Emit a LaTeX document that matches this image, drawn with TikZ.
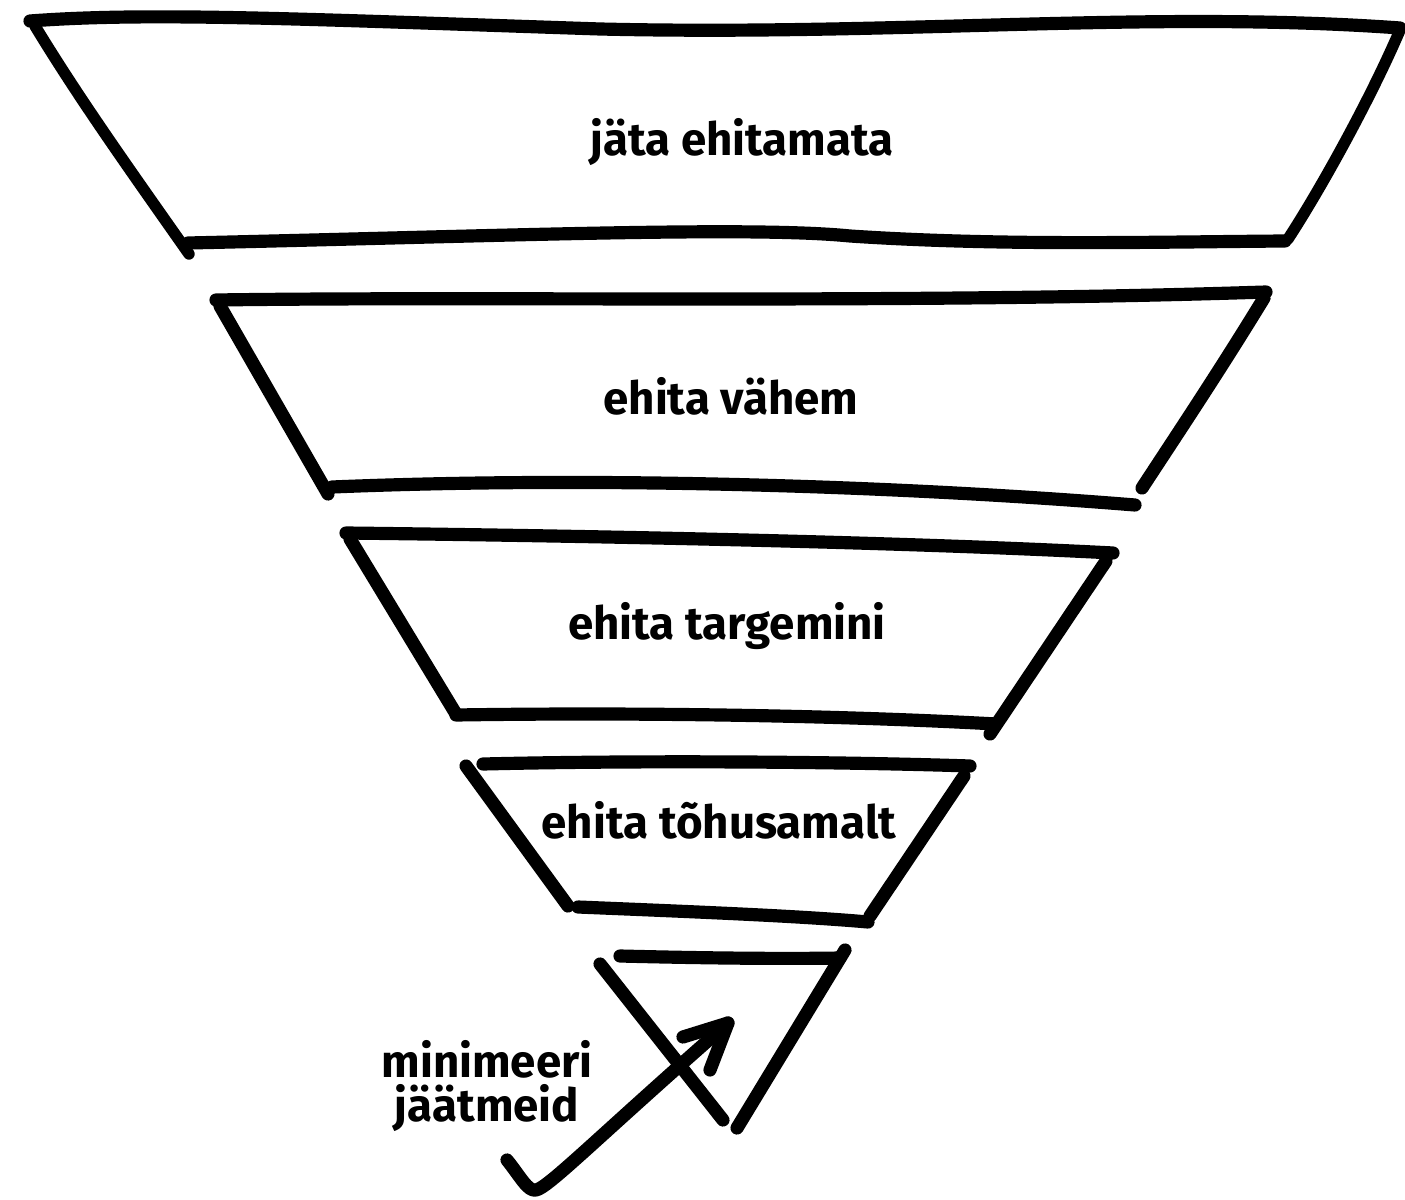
\documentclass[tikz,border=0pt]{standalone}
\usepackage{fontspec}
\setmainfont{Fira Sans}
\begin{document}
\begin{tikzpicture}[scale=0.2]
    \tikzstyle{every node}+=[inner sep=0pt, font=\fontsize{26}{25}\selectfont\bfseries]
    \tikzstyle{pen}=[black, line width=7.5pt, line cap=round, line join=round]
    \useasboundingbox (0,0) rectangle (140.5,-120);
    \draw [pen] (3.0,-2.1) .. controls (15,-1.2) and (30,-1.9) .. (60,-2.9) .. controls (90,-3.6) and (115,-1.0) .. (140.0,-2.8);
    \draw [pen, line width=6.5pt] (3.5,-2.6) .. controls (8,-10) and (13,-17) .. (18.9,-25.4);
    \draw [pen] (18.8,-24.3) .. controls (50,-23.6) and (75,-22.6) .. (85,-23.6) .. controls (100,-24.6) and (115,-24.2) .. (128.5,-24.1);
    \draw [pen, line width=6.5pt] (140.0,-3.0) .. controls (137,-10) and (132,-19) .. (128.8,-23.9);
    \draw (74.2,-14.2) node (lvla) {jäta ehitamata};
    \draw [pen] (21.6,-30.0) .. controls (50,-29.6) and (90,-30.4) .. (126.6,-29.2);
    \draw [pen] (22.0,-30.6) -- (32.8,-49.4);
    \draw [pen] (33.2,-48.7) .. controls (60,-47.6) and (90,-48.6) .. (113.5,-50.5);
    \draw [pen] (126.4,-29.8) .. controls (122,-37) and (118,-43) .. (114.2,-48.8);
    \draw (73.1,-39.6) node (lvlb) {ehita vähem};
    \draw [pen] (34.6,-53.3) .. controls (60,-53.6) and (90,-54.2) .. (111.3,-55.3);
    \draw [pen] (35.0,-53.9) -- (45.6,-71.4);
    \draw [pen] (45.6,-71.5) .. controls (65,-71.2) and (85,-71.6) .. (99.6,-72.4);
    \draw [pen] (110.6,-56.1) -- (99.0,-73.4);
    \draw (72.7,-62.6) node (lvlc) {ehita targemini};
    \draw [pen] (48.3,-76.4) .. controls (65,-76.0) and (85,-76.2) .. (97.0,-76.6);
    \draw [pen] (46.6,-76.6) -- (56.8,-90.6);
    \draw [pen] (57.8,-90.7) .. controls (70,-91.2) and (80,-91.6) .. (86.8,-92.2);
    \draw [pen] (96.4,-77.6) -- (87.0,-91.6);
    \draw (71.9,-82.0) node (lvld) {ehita tõhusamalt};
    \draw [pen] (62.0,-95.6) .. controls (70,-95.8) and (78,-95.9) .. (84.0,-95.8);
    \draw [pen] (60.0,-96.4) -- (72.3,-112.0);
    \draw [pen] (84.5,-95.0) -- (73.7,-112.8);
    \draw (48.7,-108.6) node [align=center] (note) {minimeeri\\jäätmeid};
    \coordinate (as) at (50.7,-116.0);
    \coordinate (ab) at (53.6,-119.0);
    \coordinate (at) at (72.8,-102.3);
    \coordinate (hl) at (68.3,-103.7);
    \coordinate (hr) at (71.0,-107.0);
    \draw [pen] (as) .. controls (52,-117.6) and (52.8,-119.2) .. (ab) .. controls (54.8,-118.8) and (60,-113.5) .. (at);
    \draw [pen] (hl) -- (at) -- (hr);
\end{tikzpicture}
\end{document}
